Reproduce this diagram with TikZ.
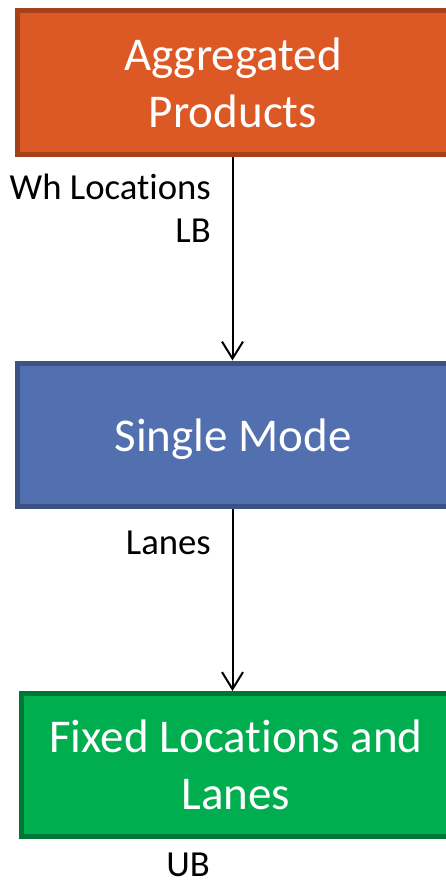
\documentclass[tikz,border=0pt]{standalone}
\usepackage{fontspec}
\setmainfont{Carlito}[Ligatures={NoCommon}]
\usetikzlibrary{arrows.meta}
\definecolor{orangefill}{RGB}{220,89,37}
\definecolor{orangeline}{RGB}{164,65,27}
\definecolor{bluefill}{RGB}{82,111,176}
\definecolor{blueline}{RGB}{60,81,132}
\definecolor{greenfill}{RGB}{0,173,79}
\definecolor{greenline}{RGB}{0,118,52}
\tikzset{
  stage/.style={draw, line width=5pt, rectangle, text=white, align=center,
    font=\fontsize{47}{56.5}\selectfont, inner sep=0pt},
  flow/.style={line width=2pt, -{Straight Barb[length=17pt,width=21pt]}},
  tag/.style={anchor=base east, inner sep=0pt,
    font=\fontsize{36.7}{43}\selectfont}
}
\begin{document}
\begin{tikzpicture}[x=1pt,y=-1pt]
  \useasboundingbox (0,0) rectangle (446,883);
  \clip (0,0) rectangle (446,883);
  \fill[white] (0,0) rectangle (446,883);

  % the three stages
  \node[stage, fill=orangefill, draw=orangeline, minimum width=432pt, minimum height=143.5pt]
    (agg) at (233,82.75) {Aggregated\\Products};
  \node[stage, fill=bluefill, draw=blueline, minimum width=432pt, minimum height=143.5pt,
    text depth=0pt, text height=33pt]
    (single) at (233,434.75) {Single Mode};
  \node[stage, fill=greenfill, draw=greenline, minimum width=430pt, minimum height=142.5pt]
    (fixed) at (236,764.75) {Fixed Locations and\\Lanes};

  % connectors down the middle
  \draw[flow] (agg.south -| 232.5,0) -- (single.north -| 232.5,0);
  \draw[flow] (single.south -| 232.5,0) -- (fixed.north -| 232.5,0);

  % bound labels
  \node[tag, align=right] (lb) at (211,242) {Wh Locations\\LB};
  \node[tag] (lanes) at (211,554) {Lanes};
  \node[tag] (ub) at (210,876) {UB};
\end{tikzpicture}
\end{document}
